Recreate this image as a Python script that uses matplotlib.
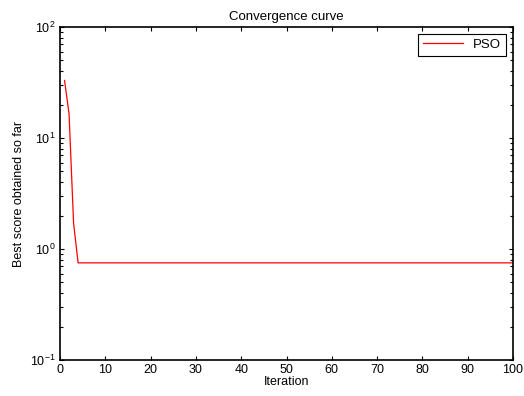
import matplotlib
matplotlib.use("Agg")
from matplotlib import pyplot as plt
from matplotlib.ticker import LogLocator, NullFormatter

# convergence data
iters = list(range(1, 101))
best_start = [33.0, 16.5, 1.7]
best_final = 0.75
scores = best_start + [best_final] * (len(iters) - len(best_start))

plt.rcParams['font.family'] = ['Liberation Sans', 'DejaVu Sans']
plt.rcParams['font.size'] = 9
plt.rcParams['axes.unicode_minus'] = False

fig = plt.figure(figsize=(5.24, 3.96), dpi=100)
ax = fig.add_axes([60 / 524, 36 / 396, 453 / 524, 333 / 396])

ax.semilogy(iters, scores, color='red', linewidth=0.9, label='PSO')
ax.set_xlim(0, 100)
ax.set_ylim(0.1, 100)
ax.set_xticks(range(0, 101, 10))
ax.yaxis.set_minor_locator(LogLocator(base=10, subs=range(2, 10)))
ax.yaxis.set_minor_formatter(NullFormatter())

ax.tick_params(which='both', direction='in', top=True, right=True, width=0.8,
               labelsize=9)
ax.tick_params(which='major', length=3, pad=3)
ax.tick_params(which='minor', length=2)
for s in ax.spines.values():
    s.set_linewidth(1.2)

ax.set_title('Convergence curve', fontsize=9.5, pad=5)
ax.set_xlabel('Iteration', fontsize=9, labelpad=0)
ax.set_ylabel('Best score obtained so far', fontsize=9, labelpad=4)

leg = ax.legend(loc='upper right', fancybox=False, framealpha=1,
                edgecolor='black', fontsize=9.5, handlelength=3.0,
                borderaxespad=0.5, borderpad=0.4)
leg.get_frame().set_linewidth(0.8)

fig.savefig('out.png', dpi=100)
